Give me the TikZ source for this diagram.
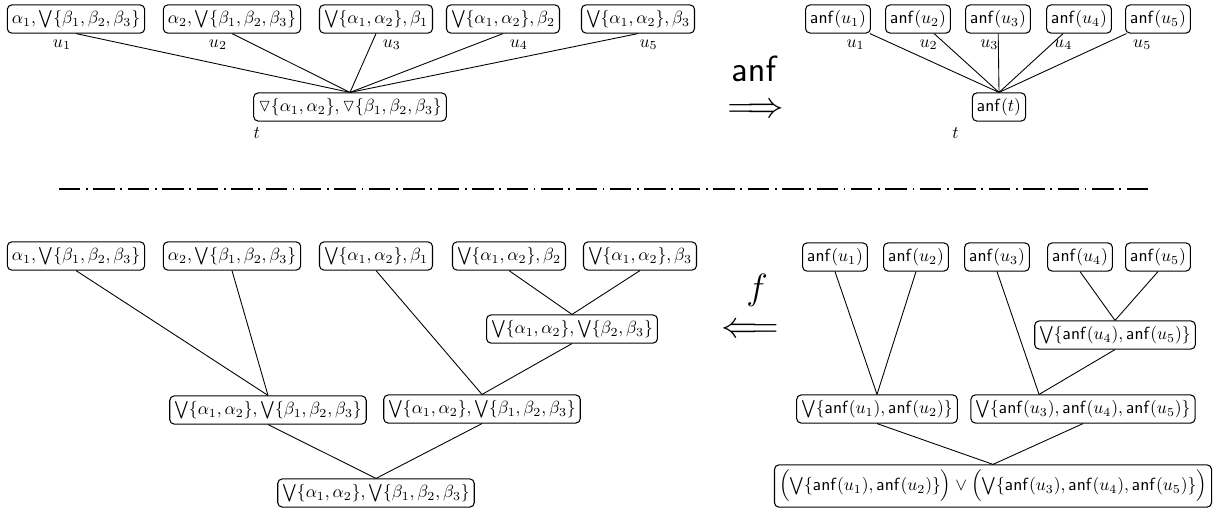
\documentclass[tikz,border=0pt]{standalone}
\usepackage{amsmath,amssymb}
\usetikzlibrary{positioning}
\newcommand{\anf}{\mathsf{anf}}

\begin{document}
\begin{tikzpicture}[x=0.02cm, y=-0.02cm,
    box/.style={draw, rounded corners=2.5pt, line width=0.6pt, inner xsep=2.6pt, inner ysep=3pt},
    oplbl/.style={inner sep=0pt, font=\huge},
    link/.style={line width=0.5pt},
    sep/.style={line width=1.4pt, dash pattern=on 12.2pt off 3.2pt on 1pt off 3.2pt}]
    \useasboundingbox (0,0) rectangle (1223,511);

    % Top left: tree t with five children
    \node[box, label={[xshift=-8pt]below:$u_1$}] (u1) at (76,19) {$\alpha_1,\bigvee\{\beta_1,\beta_2,\beta_3\}$};
    \node[box, label={[xshift=-8pt]below:$u_2$}] (u2) at (232,19) {$\alpha_2,\bigvee\{\beta_1,\beta_2,\beta_3\}$};
    \node[box, label={[xshift=9pt]below:$u_3$}] (u3) at (376,19) {$\bigvee\{\alpha_1,\alpha_2\},\beta_1$};
    \node[box, label={[xshift=9pt]below:$u_4$}] (u4) at (503,19) {$\bigvee\{\alpha_1,\alpha_2\},\beta_2$};
    \node[box, label={[xshift=6pt]below:$u_5$}] (u5) at (638,19) {$\bigvee\{\alpha_1,\alpha_2\},\beta_3$};
    \node[box, label={[anchor=north, xshift=2pt]south west:$t$}] (t) at (350,107) {$\triangledown\{\alpha_1,\alpha_2\},\triangledown\{\beta_1,\beta_2,\beta_3\}$};
    \foreach \n in {u1,u2,u3,u4,u5}
        \draw[link] (\n.south) -- (t.north);

    % anf arrow
    \node[oplbl] (anflbl) at (755,69) {$\anf$};
    \node[oplbl] (impl) at (756,111) {$\Longrightarrow$};

    % Top right: tree after anf
    \node[box, label={[xshift=10pt]below:$u_1$}] (a1) at (838,19) {$\anf(u_1)$};
    \node[box, label={[xshift=6pt]below:$u_2$}] (a2) at (918,19) {$\anf(u_2)$};
    \node[box, label={[xshift=-5pt]below:$u_3$}] (a3) at (998,19) {$\anf(u_3)$};
    \node[box, label={[xshift=-9pt]below:$u_4$}] (a4) at (1079,19) {$\anf(u_4)$};
    \node[box, label={[xshift=-9pt]below:$u_5$}] (a5) at (1158,19) {$\anf(u_5)$};
    \node[box, label={[anchor=north east, xshift=-4pt]south west:$t$}] (tt) at (999,107) {$\anf(t)$};
    \foreach \n in {a1,a2,a3,a4,a5}
        \draw[link] (\n) -- (tt.north);

    % separator
    \draw[sep] (59,189) -- (1152,189);

    % Bottom left: binary tree
    \node[box] (b1) at (76,256) {$\alpha_1,\bigvee\{\beta_1,\beta_2,\beta_3\}$};
    \node[box] (b2) at (232,256) {$\alpha_2,\bigvee\{\beta_1,\beta_2,\beta_3\}$};
    \node[box] (b3) at (376,256) {$\bigvee\{\alpha_1,\alpha_2\},\beta_1$};
    \node[box] (b4) at (509,256) {$\bigvee\{\alpha_1,\alpha_2\},\beta_2$};
    \node[box] (b5) at (640,256) {$\bigvee\{\alpha_1,\alpha_2\},\beta_3$};
    \node[box] (b45) at (572,329) {$\bigvee\{\alpha_1,\alpha_2\},\bigvee\{\beta_2,\beta_3\}$};
    \node[box] (b12) at (268,410) {$\bigvee\{\alpha_1,\alpha_2\},\bigvee\{\beta_1,\beta_2,\beta_3\}$};
    \node[box] (b345) at (482,409) {$\bigvee\{\alpha_1,\alpha_2\},\bigvee\{\beta_1,\beta_2,\beta_3\}$};
    \node[box] (broot) at (376,493) {$\bigvee\{\alpha_1,\alpha_2\},\bigvee\{\beta_1,\beta_2,\beta_3\}$};
    \draw[link] (b4.south) -- (b45.north);
    \draw[link] (b5.south) -- (b45.north);
    \draw[link] (b1.south) -- (b12.north);
    \draw[link] (b2.south) -- (b12.north);
    \draw[link] (b3.south) -- (b345.north);
    \draw[link] (b45.south) -- (b345.north);
    \draw[link] (b12.south) -- (broot.north);
    \draw[link] (b345.south) -- (broot.north);

    % f arrow
    \node[oplbl] (flbl) at (757,290) {$f$};
    \node[oplbl] (impr) at (750,331) {$\Longleftarrow$};

    % Bottom right: binary tree of anf
    \node[box] (c1) at (835,257) {$\anf(u_1)$};
    \node[box] (c2) at (916,257) {$\anf(u_2)$};
    \node[box] (c3) at (997,257) {$\anf(u_3)$};
    \node[box] (c4) at (1080,257) {$\anf(u_4)$};
    \node[box] (c5) at (1158,257) {$\anf(u_5)$};
    \node[box] (c45) at (1115,335) {$\bigvee\{\anf(u_4),\anf(u_5)\}$};
    \node[box] (c12) at (877,409) {$\bigvee\{\anf(u_1),\anf(u_2)\}$};
    \node[box] (c345) at (1083,409) {$\bigvee\{\anf(u_3),\anf(u_4),\anf(u_5)\}$};
    \node[box] (croot) at (993,486) {$\Bigl(\bigvee\{\anf(u_1),\anf(u_2)\}\Bigr)\vee\Bigl(\bigvee\{\anf(u_3),\anf(u_4),\anf(u_5)\}\Bigr)$};
    \draw[link] (c4.south) -- (c45.north);
    \draw[link] (c5.south) -- (c45.north);
    \draw[link] (c1.south) -- (c12.north);
    \draw[link] (c2.south) -- (c12.north);
    \draw[link] (c3.south) -- ([xshift=-25pt]c345.north);
    \draw[link] (c45.south) -- ([xshift=-25pt]c345.north);
    \draw[link] (c12.south) -- (croot.north);
    \draw[link] (c345.south) -- (croot.north);
\end{tikzpicture}
\end{document}
